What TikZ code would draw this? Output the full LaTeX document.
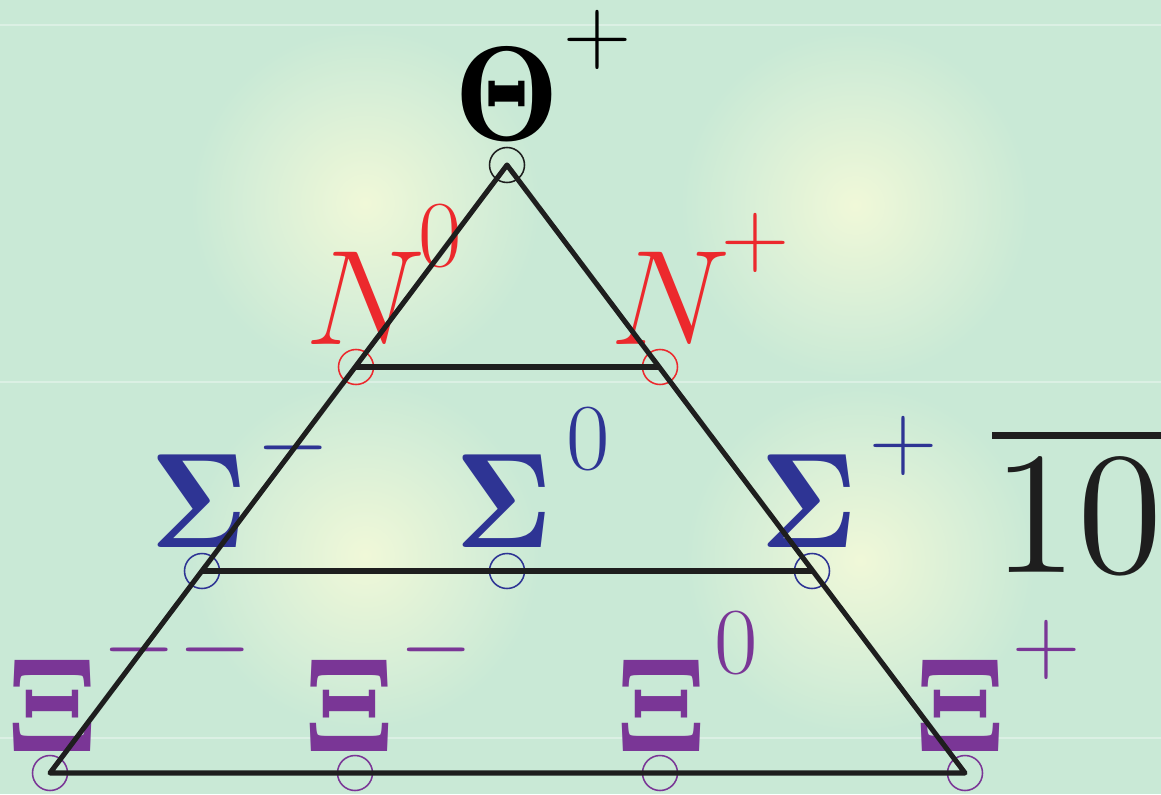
\RequirePackage{fix-cm}
\documentclass[tikz,border=0pt]{standalone}
\usepackage{amsmath,amssymb}
\usepackage{tikz}
\usetikzlibrary{positioning, calc}
\usepackage{xcolor}
\definecolor{mintbg}{RGB}{201,233,214}
\definecolor{glowyellow}{RGB}{240,248,216}
\definecolor{nucred}{RGB}{236,41,45}
\definecolor{sigblue}{RGB}{46,52,148}
\definecolor{xipurple}{RGB}{122,54,150}
\definecolor{edgeblack}{RGB}{30,30,30}
\DeclareFontFamily{OT1}{cmten}{}
\DeclareFontShape{OT1}{cmten}{m}{n}{<-> cmr12}{}
\DeclareFontShape{OT1}{cmten}{b}{n}{<-> cmb10}{}
\DeclareMathAlphabet{\mathbten}{OT1}{cmten}{b}{n}
\DeclareMathAlphabet{\mathrmten}{OT1}{cmten}{m}{n}
\newcommand{\chg}[3][6pt]{^{\hspace{#1}\raisebox{#2}{$\scriptstyle #3$}}}

\begin{document}
\begin{tikzpicture}[x=0.025cm, y=-0.025cm,
  site/.style={circle, draw=#1, line width=1.1pt, minimum size=0.875cm, inner sep=0pt},
  particle/.style={anchor=base west, inner sep=0pt, text=#1, font=\fontsize{96}{100}\selectfont},
  edge/.style={draw=edgeblack, line width=3.6pt, line join=round}]
  \useasboundingbox (0,0) rectangle (1161,794);
  \begin{scope}
  \clip (0,0) rectangle (1161,794);
  \fill[mintbg] (0,0) rectangle (1161,794);
  \foreach \gx/\gy in {365/203, 855/205, 365/555, 860/560}
    \shade[inner color=glowyellow, outer color=mintbg] (\gx,\gy) circle (175);
  \foreach \sy in {25, 382, 738}
    \draw[white, opacity=0.35, line width=1.2pt] (0,\sy) -- (1161,\sy);

  % labels
  \node[particle=black] (lblTheta) at (454,141) {$\mathbten{\Theta}\chg[3pt]{20pt}{+}$};
  \node[particle=nucred] (lblNzero) at (305,344) {$N\chg[-5pt]{20pt}{0}$};
  \node[particle=nucred] (lblNplus) at (610,344) {$N\chg[-6pt]{20pt}{+}$};
  \node[particle=sigblue] (lblSminus) at (150,547) {$\mathbten{\Sigma}\chg[6pt]{19pt}{-}$};
  \node[particle=sigblue] (lblSzero) at (455,547) {$\mathbten{\Sigma}\chg[10pt]{20pt}{0}$};
  \node[particle=sigblue] (lblSplus) at (760,547) {$\mathbten{\Sigma}\chg[8pt]{20pt}{+}$};
  \node[particle=xipurple] (lblXmm) at (7,751) {$\mathbten{\Xi}\chg[4pt]{20pt}{-\hspace{1.5pt}-}$};
  \node[particle=xipurple] (lblXminus) at (304,751) {$\mathbten{\Xi}\chg[4pt]{20pt}{-}$};
  \node[particle=xipurple] (lblXzero) at (616,751) {$\mathbten{\Xi}\chg[6pt]{20pt}{0}$};
  \node[particle=xipurple] (lblXplus) at (915,751) {$\mathbten{\Xi}\chg[5pt]{20pt}{+}$};
  \node[particle=edgeblack, font=\fontsize{124}{130}\selectfont] (lblRep) at (992,572) {$\overline{\mathrmten{10}}$};

  % sites
  \node[site=edgeblack] (theta) at (507,165) {};
  \node[site=nucred] (nzero) at (356,367) {};
  \node[site=nucred] (nplus) at (660,367) {};
  \node[site=sigblue] (sminus) at (202,571) {};
  \node[site=sigblue] (szero) at (507,571) {};
  \node[site=sigblue] (splus) at (812,571) {};
  \node[site=xipurple] (xmm) at (50,773) {};
  \node[site=xipurple] (xminus) at (355,773) {};
  \node[site=xipurple] (xzero) at (660,773) {};
  \node[site=xipurple] (xplus) at (965,773) {};

  \draw[edge] (theta.center) -- (xmm.center) -- (xplus.center) -- cycle;
  \draw[edge] (nzero.center) -- (nplus.center);
  \draw[edge] (sminus.center) -- (splus.center);
  \end{scope}
\end{tikzpicture}
\end{document}
